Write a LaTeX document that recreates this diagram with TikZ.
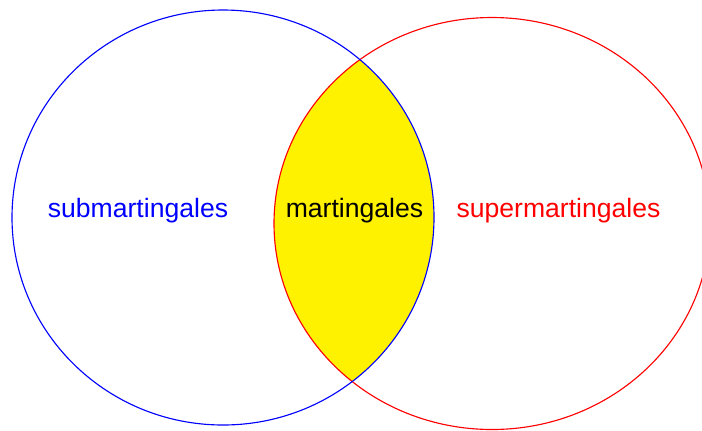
\documentclass[tikz,border=0pt]{standalone}
\usepackage{fontspec}
\setmainfont{Liberation Sans}

\begin{document}
\begin{tikzpicture}[x=0.025cm, y=-0.025cm,
    every node/.style={font=\fontsize{18.9}{22}\selectfont, anchor=base, inner sep=0pt},
    setline/.style={line width=0.8pt}]
  % Frame
  \useasboundingbox (0,0) rectangle (702,430);
  \clip (0,0) rectangle (702,430);
  % Overlap of the two sets
  \begin{scope}
    \clip (223,217.5) ellipse [x radius=211, y radius=207.5];
    \fill[yellow] (492,223.5) ellipse [x radius=218, y radius=206];
  \end{scope}
  % Set outlines
  \draw[setline, red]  (492,223.5) ellipse [x radius=218, y radius=206];
  \draw[setline, blue] (223,217.5) ellipse [x radius=211, y radius=207.5];
  % Labels
  \node[blue]  (sub)   at (138,217)   {submartingales};
  \node[black] (mart)  at (354.5,217) {martingales};
  \node[red]   (super) at (558.5,217) {supermartingales};
\end{tikzpicture}
\end{document}
